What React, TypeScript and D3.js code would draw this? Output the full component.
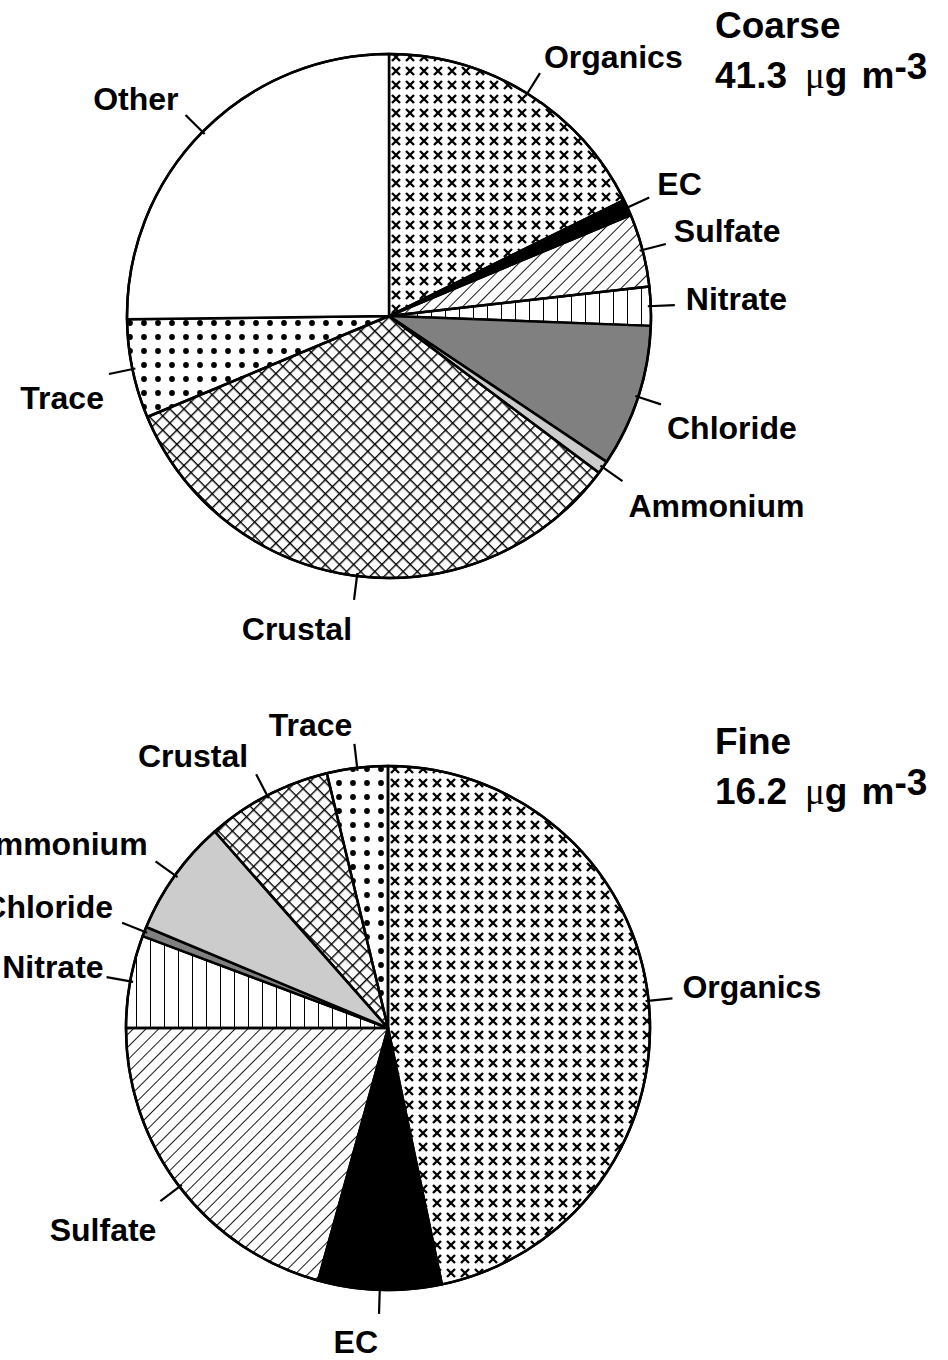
import React from "react";
import * as d3 from "d3";

// ---- data ----
const coarseCategories = ["Organics", "EC", "Sulfate", "Nitrate", "Chloride", "Ammonium", "Crustal", "Trace", "Other"];
const coarseValues = [17.7, 1.0, 4.5, 2.4, 8.8, 0.8, 33.5, 6.1, 25.2];
const fineCategories = ["Organics", "EC", "Sulfate", "Nitrate", "Chloride", "Ammonium", "Crustal", "Trace"];
const fineValues = [46.7, 7.6, 20.7, 5.7, 0.6, 7.2, 7.75, 3.75];
const coarseTitle = ["Coarse", "41.3"];
const fineTitle = ["Fine", "16.2"];

// ---- styles ----
const fills: Record<string, string> = {
  Organics: "url(#pCross)",
  EC: "#000000",
  Sulfate: "url(#pDiag)",
  Nitrate: "url(#pVert)",
  Chloride: "#808080",
  Ammonium: "#cccccc",
  Crustal: "url(#pHatch)",
  Trace: "url(#pDots)",
  Other: "#ffffff",
};

// label offsets from leader end: [dx, dy, anchor]
const coarseLabelLayout: [number, number, string][] = [
  [4, -5, "start"], [8, -3, "start"], [8, -2, "start"], [11, 5, "start"],
  [6, 35, "start"], [6, 36, "start"], [-2, 40, "end"], [-5, 35, "end"], [-7, -5, "end"],
];
const fineLabelLayout: [number, number, string][] = [
  [10, 0, "start"], [-1, 39, "end"], [-4, 40, "end"], [-3, 1, "end"],
  [-9, -5, "end"], [-8, -6, "end"], [-8, -7, "end"], [-2, -8, "end"],
];

const W = 948;
const H = 1360;
const R = 262;
const FONT = "'Liberation Sans', Arial, Helvetica, sans-serif";

type PieProps = {
  cx: number;
  cy: number;
  cats: string[];
  vals: number[];
  layout: [number, number, string][];
};

function Pie({ cx, cy, cats, vals, layout }: PieProps) {
  const pie = d3.pie<number>().sort(null).value((d) => d).startAngle(0).endAngle(2 * Math.PI);
  const arcs = pie(vals);
  const arc = d3.arc<d3.PieArcDatum<number>>().innerRadius(0).outerRadius(R);
  return (
    <g transform={`translate(${cx},${cy})`}>
      {arcs.map((a, i) => (
        <path key={"s" + i} d={arc(a) || ""} fill={fills[cats[i]]} stroke="#000" strokeWidth={2.5} strokeLinejoin="round" />
      ))}
      <circle r={R} fill="none" stroke="#000" strokeWidth={2.5} />
      {arcs.map((a, i) => {
        const mid = (a.startAngle + a.endAngle) / 2;
        const sx = Math.sin(mid), sy = -Math.cos(mid);
        const r0 = R - 3, r1 = R + 24;
        const ex = sx * r1, ey = sy * r1;
        const [dx, dy, anchor] = layout[i];
        return (
          <g key={"l" + i}>
            <line x1={sx * r0} y1={sy * r0} x2={ex} y2={ey} stroke="#000" strokeWidth={2.2} />
            <text x={ex + dx} y={ey + dy} textAnchor={anchor as any} fontFamily={FONT} fontWeight="bold" fontSize={32} fill="#000">
              {cats[i]}
            </text>
          </g>
        );
      })}
    </g>
  );
}

function Title({ x, y, lines }: { x: number; y: number; lines: string[] }) {
  return (
    <g>
      <text x={x} y={y} fontFamily={FONT} fontWeight="bold" fontSize={37} fill="#000">{lines[0]}</text>
      <text x={x} y={y + 50} fontFamily={FONT} fontWeight="bold" fontSize={37} fill="#000">
        {lines[1]}
        <tspan dx={18} fontFamily="'Liberation Serif', 'DejaVu Serif', serif" fontWeight="normal">μ</tspan>
        <tspan>g</tspan>
        <tspan dx={14}>m</tspan>
        <tspan dy={-9}>-3</tspan>
      </text>
    </g>
  );
}

export default function App() {
  return (
    <svg width={W} height={H} viewBox={`0 0 ${W} ${H}`} style={{ position: "absolute", left: 0, top: 0, display: "block", background: "#fff" }}>
      <defs>
        <pattern id="pCross" patternUnits="userSpaceOnUse" width={14} height={14}>
          <path d="M3,3 L11,11 M11,3 L3,11" stroke="#000" strokeWidth={2.4} />
        </pattern>
        <pattern id="pDiag" patternUnits="userSpaceOnUse" width={9} height={9} patternTransform="rotate(45)">
          <line x1={0} y1={0} x2={0} y2={9} stroke="#000" strokeWidth={1.8} />
        </pattern>
        <pattern id="pVert" patternUnits="userSpaceOnUse" width={14} height={14}>
          <line x1={0} y1={0} x2={0} y2={14} stroke="#000" strokeWidth={2} />
        </pattern>
        <pattern id="pHatch" patternUnits="userSpaceOnUse" width={10} height={10} patternTransform="rotate(45)">
          <line x1={0} y1={0} x2={0} y2={10} stroke="#000" strokeWidth={2.8} />
          <line x1={0} y1={0} x2={10} y2={0} stroke="#000" strokeWidth={2.8} />
        </pattern>
        <pattern id="pDots" patternUnits="userSpaceOnUse" width={14} height={14}>
          <circle cx={7} cy={7} r={2.9} fill="#000" />
        </pattern>
      </defs>
      <rect width={W} height={H} fill="#fff" />
      <Pie cx={389} cy={316} cats={coarseCategories} vals={coarseValues} layout={coarseLabelLayout} />
      <Pie cx={388} cy={1028} cats={fineCategories} vals={fineValues} layout={fineLabelLayout} />
      <Title x={715} y={38} lines={coarseTitle} />
      <Title x={715} y={754} lines={fineTitle} />
    </svg>
  );
}
